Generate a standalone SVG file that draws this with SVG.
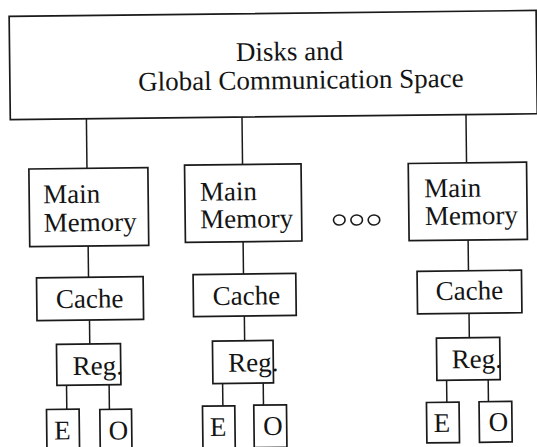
<svg xmlns="http://www.w3.org/2000/svg" width="537" height="447" viewBox="0 0 537 447">
  <style>
    .box { fill: #ffffff; stroke: #1a1a1a; stroke-width: 1.7; }
    .wire { stroke: #1a1a1a; stroke-width: 1.5; fill: none; }
    .lbl { font-family: "Liberation Serif", "Times New Roman", serif; font-size: 27px; fill: #141414; }
    .mid { text-anchor: middle; }
    .dot { fill: none; stroke: #1a1a1a; stroke-width: 1.6; }
  </style>
  <rect width="537" height="447" fill="#ffffff"/>
  <!-- the whole sheet sits slightly tilted -->
  <g transform="rotate(-0.65 268 223)">
    <g id="connectors" class="wire">
      <!-- shared space to each main memory -->
      <line x1="87.6" y1="116.8" x2="87.6" y2="166.3"/>
      <line x1="243.2" y1="116.8" x2="243.2" y2="164.2"/>
      <line x1="467.2" y1="116.8" x2="467.2" y2="165.1"/>
      <!-- main memory to cache -->
      <line x1="87.9" y1="244" x2="87.9" y2="275.3"/>
      <line x1="242.9" y1="241.4" x2="242.9" y2="273.7"/>
      <line x1="467.9" y1="242.3" x2="467.9" y2="273"/>
      <!-- cache to registers -->
      <line x1="88.4" y1="318" x2="88.4" y2="342"/>
      <line x1="243.3" y1="315.7" x2="243.3" y2="340.4"/>
      <line x1="468" y1="315.6" x2="468" y2="340"/>
      <!-- registers to E / O units -->
      <line x1="64.7" y1="383" x2="64.7" y2="407"/>
      <line x1="107.3" y1="383" x2="107.3" y2="407.6"/>
      <line x1="220.8" y1="383" x2="220.8" y2="405.4"/>
      <line x1="261.4" y1="383" x2="261.4" y2="405"/>
      <line x1="444.8" y1="382.3" x2="444.8" y2="404.3"/>
      <line x1="486.4" y1="382.3" x2="486.4" y2="404.1"/>
    </g>

    <g id="global-space">
      <rect class="box" x="11.5" y="13.5" width="527" height="103.3"/>
      <text class="lbl"><tspan x="237.8" y="60.6">Disks and</tspan><tspan x="139.8" y="89.2">Global Communication Space</tspan></text>
    </g>

    <!-- column 1 -->
    <g id="main-memory-1">
      <rect class="box" x="29.5" y="166.3" width="119" height="77.7"/>
      <text class="lbl"><tspan x="43.5" y="200.8">Main</tspan><tspan x="43.7" y="229.2">Memory</tspan></text>
    </g>
    <g id="cache-1">
      <rect class="box" x="35.9" y="275.3" width="106.6" height="42.7"/>
      <text class="lbl" x="55" y="305.6">Cache</text>
    </g>
    <g id="reg-1">
      <rect class="box" x="55.1" y="342" width="64" height="41"/>
      <text class="lbl" x="71" y="372.8">Reg.</text>
    </g>
    <g id="e-1">
      <rect class="box" x="44.4" y="407" width="32.6" height="42"/>
      <text class="lbl mid" x="60" y="437">E</text>
    </g>
    <g id="o-1">
      <rect class="box" x="97.7" y="407.6" width="31.7" height="42"/>
      <text class="lbl mid" x="116" y="437.6">O</text>
    </g>

    <!-- column 2 -->
    <g id="main-memory-2">
      <rect class="box" x="185.2" y="164.2" width="116.5" height="77.2"/>
      <text class="lbl"><tspan x="200.3" y="199.9">Main</tspan><tspan x="200.3" y="227.5">Memory</tspan></text>
    </g>
    <g id="cache-2">
      <rect class="box" x="192.5" y="273.7" width="102.7" height="42"/>
      <text class="lbl" x="211.9" y="304.4">Cache</text>
    </g>
    <g id="reg-2">
      <rect class="box" x="211.1" y="340.4" width="60.6" height="42.6"/>
      <text class="lbl" x="226.6" y="371.3">Reg.</text>
    </g>
    <g id="e-2">
      <rect class="box" x="200.4" y="405.4" width="32.3" height="42.5"/>
      <text class="lbl mid" x="215.8" y="435.4">E</text>
    </g>
    <g id="o-2">
      <rect class="box" x="251.7" y="405" width="32.7" height="42.5"/>
      <text class="lbl mid" x="270.5" y="435">O</text>
    </g>

    <!-- ellipsis between columns -->
    <g id="more-columns">
      <ellipse class="dot" cx="339.3" cy="220.8" rx="5.8" ry="5"/>
      <ellipse class="dot" cx="356.7" cy="221" rx="5.8" ry="5"/>
      <ellipse class="dot" cx="374" cy="221.2" rx="5.8" ry="5"/>
    </g>

    <!-- column 3 -->
    <g id="main-memory-3">
      <rect class="box" x="408.9" y="165.1" width="118.3" height="77.2"/>
      <text class="lbl"><tspan x="424.5" y="199.1">Main</tspan><tspan x="425" y="226.8">Memory</tspan></text>
    </g>
    <g id="cache-3">
      <rect class="box" x="416.5" y="273" width="104.4" height="42.6"/>
      <text class="lbl" x="434.9" y="301.9">Cache</text>
    </g>
    <g id="reg-3">
      <rect class="box" x="435.1" y="340" width="63.3" height="42.3"/>
      <text class="lbl" x="450.1" y="370.4">Reg.</text>
    </g>
    <g id="e-3">
      <rect class="box" x="424.4" y="404.3" width="32.6" height="40.4"/>
      <text class="lbl mid" x="439.6" y="433.8">E</text>
    </g>
    <g id="o-3">
      <rect class="box" x="477" y="404.1" width="32.7" height="40.6"/>
      <text class="lbl mid" x="496" y="433.6">O</text>
    </g>
  </g>
</svg>
